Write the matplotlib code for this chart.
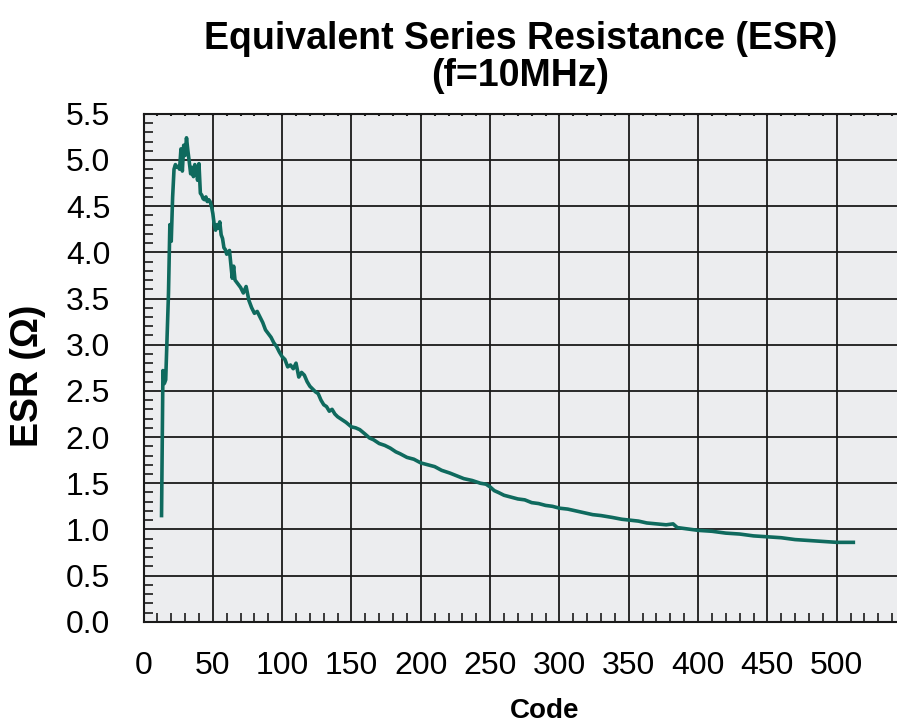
import numpy as np
import matplotlib
matplotlib.use('Agg')
import matplotlib.pyplot as plt
from matplotlib.ticker import MultipleLocator

plt.rcParams['font.family'] = ['Liberation Sans', 'DejaVu Sans']

# data
code = [13, 14, 15, 16, 17, 18, 19, 20, 21, 22, 23, 24, 25, 26, 27, 28, 29, 30,
        31, 32, 33, 34, 35, 36, 37, 38, 39, 40, 41, 42, 43, 44, 45, 46, 47, 48,
        49, 50, 51, 52, 53, 54, 55, 56, 57, 58, 59, 60, 62, 64, 65, 66, 68, 70,
        72, 74, 76, 78, 80, 82, 84, 86, 88, 90, 92, 94, 96, 98, 100, 102, 104,
        106, 108, 110, 112, 114, 116, 118, 120, 122, 124, 126, 128, 130, 132,
        134, 136, 138, 140, 143, 146, 150, 153, 156, 160, 163, 166, 170, 174,
        178, 182, 185, 190, 195, 200, 205, 210, 215, 221, 226, 231, 237, 243,
        247, 250, 253, 256, 260, 265, 270, 275, 280, 285, 290, 295, 300, 306,
        312, 318, 324, 330, 338, 345, 351, 357, 363, 370, 377, 382, 385, 390,
        395, 400, 410, 420, 430, 440, 450, 460, 470, 480, 490, 500, 506, 512]
esr = [1.15, 2.72, 2.58, 2.62, 3.10, 3.55, 4.30, 4.12, 4.60, 4.90, 4.95, 4.92,
       4.93, 4.90, 5.12, 4.88, 5.16, 5.05, 5.24, 5.10, 4.98, 4.85, 4.92, 4.82,
       4.95, 4.90, 4.78, 4.96, 4.64, 4.62, 4.58, 4.57, 4.60, 4.55, 4.57, 4.55,
       4.50, 4.42, 4.30, 4.24, 4.30, 4.26, 4.33, 4.19, 4.15, 4.05, 4.03, 3.98,
       4.02, 3.72, 3.85, 3.70, 3.66, 3.62, 3.56, 3.63, 3.48, 3.40, 3.34, 3.36,
       3.30, 3.24, 3.16, 3.12, 3.08, 3.02, 2.98, 2.92, 2.87, 2.84, 2.76, 2.78,
       2.74, 2.80, 2.65, 2.70, 2.67, 2.60, 2.55, 2.52, 2.49, 2.47, 2.40, 2.35,
       2.33, 2.28, 2.30, 2.25, 2.22, 2.19, 2.16, 2.11, 2.10, 2.08, 2.03, 1.99,
       1.97, 1.93, 1.91, 1.88, 1.84, 1.82, 1.78, 1.76, 1.72, 1.70, 1.68, 1.64,
       1.61, 1.58, 1.55, 1.53, 1.50, 1.49, 1.46, 1.42, 1.40, 1.37, 1.35, 1.33,
       1.32, 1.29, 1.28, 1.26, 1.25, 1.23, 1.22, 1.20, 1.18, 1.16, 1.15, 1.13,
       1.11, 1.10, 1.09, 1.07, 1.06, 1.05, 1.06, 1.02, 1.01, 1.00, 0.99, 0.98,
       0.96, 0.95, 0.93, 0.92, 0.91, 0.89, 0.88, 0.87, 0.86, 0.86, 0.86]

x_ticks = [0, 50, 100, 150, 200, 250, 300, 350, 400, 450, 500]
y_ticks = [0.0, 0.5, 1.0, 1.5, 2.0, 2.5, 3.0, 3.5, 4.0, 4.5, 5.0, 5.5]

fig = plt.figure(figsize=(8.97, 7.23), dpi=100)
ax = fig.add_axes([0.160, 0.140, 0.840, 0.7026])
ax.set_facecolor('#ecedef')

ax.plot(code, esr, color='#0f6a5e', lw=2.6, zorder=3)

ax.set_xlim(0, 543.5)
ax.set_ylim(0, 5.5)
ax.set_xticks(x_ticks)
ax.set_yticks(y_ticks)
ax.set_yticklabels(['%.1f' % v for v in y_ticks])
ax.xaxis.set_minor_locator(MultipleLocator(10))
ax.yaxis.set_minor_locator(MultipleLocator(0.1))
ax.grid(True, which='major', color='#1a1a1a', lw=1.3, zorder=1)

ax.tick_params(axis='both', which='major', direction='in', length=0,
               labelsize=23)
ax.tick_params(axis='x', which='major', pad=21)
ax.tick_params(axis='y', which='major', pad=24)
ax.tick_params(axis='both', which='minor', direction='in', length=6.5,
               width=1.2, color='#1a1a1a')

for s in ['left', 'bottom', 'top']:
    ax.spines[s].set_color('#1a1a1a')
    ax.spines[s].set_linewidth(1.5)
ax.spines['right'].set_visible(False)

# tiny dots along the top edge
ax2 = ax.secondary_xaxis('top')
ax2.set_xticks([])
ax2.xaxis.set_minor_locator(MultipleLocator(10))
ax2.tick_params(which='minor', direction='in', length=1.5, width=1.5,
                color='#1a1a1a')
ax2.spines['top'].set_visible(False)

ax.set_xlabel('Code', fontsize=20, fontweight='bold', va='baseline')
ax.xaxis.set_label_coords(0.533, -0.19)
ax.set_ylabel('ESR (\u03a9)', fontsize=27, fontweight='bold')
ax.yaxis.set_label_coords(-0.129, 0.485)
ax.set_title('Equivalent Series Resistance (ESR)\n(f=10MHz)', fontsize=27,
             fontweight='bold', pad=20, linespacing=1.05)

fig.savefig('out.png', dpi=100)
